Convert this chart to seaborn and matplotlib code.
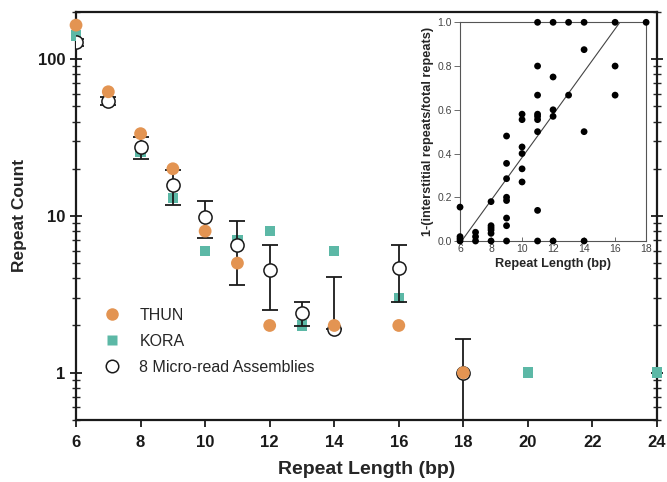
import numpy as np
import pandas as pd
import matplotlib
matplotlib.use("Agg")
import matplotlib.pyplot as plt
import seaborn as sns
from matplotlib.lines import Line2D
from matplotlib.ticker import LogLocator, NullFormatter, FixedLocator, FormatStrFormatter

sns.set_style("ticks")
plt.rcParams['font.family'] = ['Liberation Sans', 'DejaVu Sans']

# main panel data
thun_len = [6, 7, 8, 9, 10, 11, 12, 14, 16, 18]
thun_count = [165, 62, 33.5, 20, 8, 5, 2, 2, 2, 1]
kora_len = [6, 7, 8, 9, 10, 11, 12, 13, 14, 16, 20, 24]
kora_count = [142, 55, 25.5, 13, 6, 7, 8, 2, 6, 3, 1, 1]
micro_len = [6, 7, 8, 9, 10, 11, 12, 13, 14, 16, 18]
micro_mean = [128, 54, 27.5, 15.7, 9.8, 6.5, 4.5, 2.4, 1.9, 4.65, 1.0]
micro_sd = [7, 3, 4.3, 3.9, 2.6, 2.85, 2.0, 0.42, 2.2, 1.83, 0.64]

# inset data
inset_len = [6, 6, 6, 6,
             7, 7, 7,
             8, 8, 8, 8, 8, 8,
             9, 9, 9, 9, 9, 9, 9, 9,
             10, 10, 10, 10, 10, 10,
             11, 11, 11, 11, 11, 11, 11, 11, 11,
             12, 12, 12, 12, 12,
             13, 13,
             14, 14, 14, 14,
             16, 16, 16,
             18]
inset_frac = [0.155, 0.02, 0.01, 0.0,
              0.04, 0.02, 0.0,
              0.18, 0.07, 0.06, 0.05, 0.035, 0.0,
              0.48, 0.355, 0.285, 0.2, 0.185, 0.105, 0.07, 0.0,
              0.58, 0.555, 0.43, 0.40, 0.33, 0.27,
              1.0, 0.8, 0.667, 0.58, 0.57, 0.555, 0.5, 0.14, 0.0,
              1.0, 0.75, 0.6, 0.57, 0.0,
              1.0, 0.667,
              1.0, 0.875, 0.5, 0.0,
              1.0, 0.8, 0.667,
              1.0]
fit_slope = 0.098
fit_intercept = -0.598

orange = '#E39452'
teal = '#5CB8A6'
dark = '#1a1a1a'

fig = plt.figure(figsize=(6.67, 4.82), dpi=100)
ax = fig.add_axes([0.114, 0.129, 0.871, 0.846])

sns.scatterplot(x=kora_len, y=kora_count, ax=ax, marker='s', s=55, color=teal,
                edgecolor='none', clip_on=False, zorder=3)

# lower bar is dropped when mean - sd would go below zero (log axis)
lower = [0 if m - sd <= 0 else sd for m, sd in zip(micro_mean, micro_sd)]
ax.errorbar(micro_len, micro_mean, yerr=[lower, micro_sd], fmt='none', ecolor=dark,
            elinewidth=1.3, capsize=6, capthick=1.3, zorder=4)
sns.scatterplot(x=micro_len, y=micro_mean, ax=ax, marker='o', s=90, facecolor='white',
                edgecolor=dark, linewidth=1.1, zorder=5)
sns.scatterplot(x=thun_len, y=thun_count, ax=ax, marker='o', s=85, color=orange,
                edgecolor='none', clip_on=False, zorder=6)

ax.set_yscale('log')
ax.set_xlim(6, 24)
ax.set_ylim(0.5, 200)
ax.xaxis.set_major_locator(FixedLocator(list(range(6, 25, 2))))
ax.yaxis.set_major_locator(FixedLocator([1, 10, 100]))
ax.yaxis.set_major_formatter(FormatStrFormatter('%d'))
ax.yaxis.set_minor_locator(LogLocator(base=10, subs=np.arange(2, 10)))
ax.yaxis.set_minor_formatter(NullFormatter())
for side in ['left', 'right', 'top', 'bottom']:
    ax.spines[side].set_linewidth(1.6)
    ax.spines[side].set_color(dark)
ax.tick_params(axis='y', which='major', direction='inout', length=9, width=1.3,
               right=True, labelsize=12, colors=dark, pad=3)
ax.tick_params(axis='y', which='minor', direction='inout', length=6, width=1.0, right=True)
ax.tick_params(axis='x', which='major', direction='out', length=5, width=1.3,
               labelsize=12, colors=dark, pad=6)
for lbl in ax.get_xticklabels() + ax.get_yticklabels():
    lbl.set_fontweight('bold')
ax.set_xlabel('Repeat Length (bp)', fontsize=14, fontweight='bold', labelpad=8)
ax.set_ylabel('Repeat Count', fontsize=12.5, fontweight='bold', labelpad=8)

handles = [
    Line2D([], [], marker='o', linestyle='none', markersize=9, markerfacecolor=orange,
           markeredgecolor='none'),
    Line2D([], [], marker='s', linestyle='none', markersize=7.5, markerfacecolor=teal,
           markeredgecolor='none'),
    Line2D([], [], marker='o', linestyle='none', markersize=9, markerfacecolor='white',
           markeredgecolor=dark, markeredgewidth=1.1),
]
ax.legend(handles, ['THUN', 'KORA', '8 Micro-read Assemblies'], loc='lower left',
          bbox_to_anchor=(0.01, 0.075), frameon=False, fontsize=11.5,
          handletextpad=0.7, labelspacing=0.7)

# inset
ins = fig.add_axes([0.6897, 0.5, 0.279, 0.4537])
ins.set_facecolor('white')
sns.scatterplot(x=inset_len, y=inset_frac, ax=ins, color='black', s=24, edgecolor='none',
                clip_on=False, zorder=3)
fit_x = np.array([-fit_intercept / fit_slope, (1 - fit_intercept) / fit_slope])
ins.plot(fit_x, fit_slope * fit_x + fit_intercept, color='#444444', linewidth=0.8)
ins.set_xlim(6, 18)
ins.set_ylim(0, 1)
ins.set_xticks(range(6, 19, 2))
ins.set_yticks(np.arange(0, 1.01, 0.2))
ins.yaxis.set_major_formatter(FormatStrFormatter('%.1f'))
for side in ['left', 'right', 'top', 'bottom']:
    ins.spines[side].set_linewidth(0.8)
    ins.spines[side].set_color('#555555')
ins.tick_params(axis='x', direction='in', length=3, width=0.6, labelsize=7.5,
                colors='#555555', labelcolor='#444444', pad=2)
ins.tick_params(axis='y', direction='out', length=4, width=0.6, labelsize=7.5,
                colors='#555555', labelcolor='#444444', pad=2)
ins.set_xlabel('Repeat Length (bp)', fontsize=9.2, fontweight='bold', labelpad=3)
ins.set_ylabel('1-(interstitial repeats/total repeats)', fontsize=9.2, fontweight='bold',
               labelpad=2)

fig.savefig('out.png', dpi=100)
